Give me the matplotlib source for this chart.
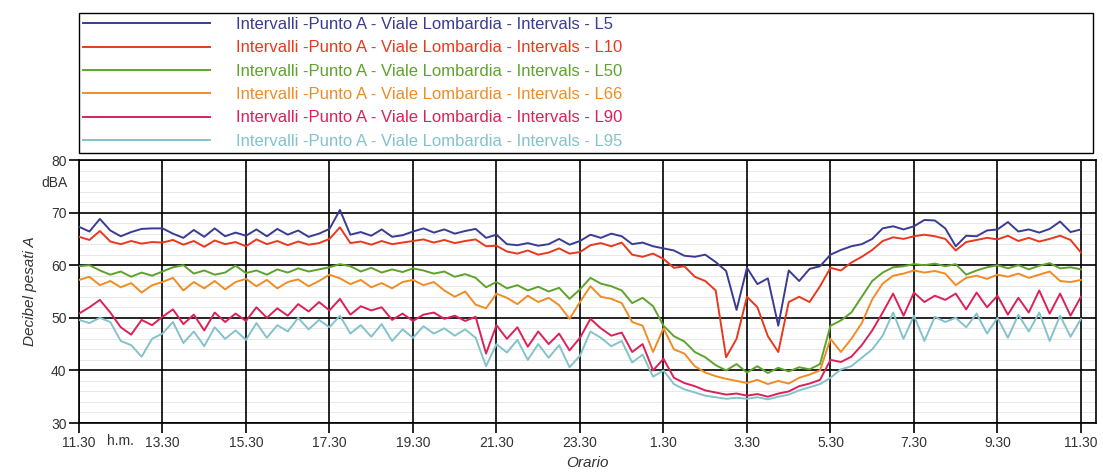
import numpy as np
import matplotlib
matplotlib.use("Agg")
import matplotlib.pyplot as plt
import matplotlib.transforms as mtransforms

plt.rcParams['font.family'] = ['Liberation Sans', 'DejaVu Sans']

# sampling every 15 minutes, hours elapsed since 11.30
hours = np.arange(97) * 0.25

tick_labels = ["11.30", "13.30", "15.30", "17.30", "19.30", "21.30", "23.30",
               "1.30", "3.30", "5.30", "7.30", "9.30", "11.30"]

series_names = ["L5", "L10", "L50", "L66", "L90", "L95"]

l5 = [67.3, 66.4, 68.8, 66.6, 65.5, 66.3, 66.9, 67.0, 67.0,
      66.0, 65.2, 66.7, 65.4, 67.0, 65.5, 66.2, 65.6,
      66.8, 65.5, 66.9, 65.8, 66.6, 65.4, 66.0, 66.9,
      70.5, 65.8, 66.3, 65.6, 66.8, 65.4, 65.7, 66.4,
      67.0, 66.2, 66.8, 66.0, 66.5, 66.9, 65.2, 65.8,
      64.0, 63.8, 64.2, 63.7, 64.0, 65.0, 63.9, 64.6,
      65.8, 65.2, 66.0, 65.5, 64.0, 64.3, 63.6, 63.2,
      62.8, 61.8, 61.6, 62.0, 60.6, 58.9, 51.5, 59.5,
      56.4, 57.5, 48.5, 59.0, 57.0, 59.3, 59.8, 62.0,
      62.9, 63.6, 64.0, 65.0, 67.0, 67.4, 66.8, 67.4,
      68.6, 68.5, 67.0, 63.6, 65.6, 65.5, 66.6, 66.8,
      68.2, 66.4, 66.8, 66.2, 66.9, 68.3, 66.3, 66.8]

l10 = [65.4, 64.8, 66.5, 64.5, 64.0, 64.6, 64.1, 64.4, 64.3,
       64.8, 63.9, 64.6, 63.5, 64.7, 64.0, 64.4, 63.6,
       64.9, 64.0, 64.6, 63.8, 64.5, 63.9, 64.2, 65.0,
       67.2, 64.2, 64.5, 63.9, 64.6, 64.0, 64.3, 64.6,
       64.9, 64.3, 64.8, 64.2, 64.6, 64.9, 63.6, 63.7,
       62.6, 62.2, 62.8, 62.0, 62.4, 63.2, 62.2, 62.5,
       63.8, 64.2, 63.6, 64.3, 62.0, 61.6, 62.2, 61.2,
       59.5, 59.8, 57.8, 57.0, 55.2, 42.5, 46.0, 54.0,
       52.0, 46.5, 43.5, 53.0, 54.0, 53.0, 56.0, 59.5,
       59.0, 60.5, 61.6, 62.9, 64.6, 65.3, 65.0, 65.5,
       65.8, 65.5, 65.0, 62.8, 64.4, 64.8, 65.2, 64.9,
       65.6, 64.6, 65.2, 64.5, 65.0, 65.6, 64.8, 62.4]

l50 = [59.8, 60.0, 59.0, 58.2, 58.8, 57.8, 58.6, 58.0, 58.8,
       59.6, 60.0, 58.4, 59.0, 58.2, 58.6, 59.9, 58.5,
       59.0, 58.2, 59.2, 58.6, 59.4, 58.8, 59.2, 59.6,
       60.2, 59.8, 58.8, 59.5, 58.6, 59.2, 58.7, 59.4,
       59.0, 58.4, 58.8, 57.8, 58.3, 57.6, 55.8, 56.8,
       55.6, 56.2, 55.2, 55.9, 55.0, 55.7, 53.6, 55.4,
       57.6, 56.5, 56.0, 55.2, 52.8, 53.8, 52.2, 48.5,
       46.5, 45.5, 43.5, 42.5, 41.0, 40.0, 41.2, 39.6,
       40.8, 39.5, 40.5, 39.8, 40.6, 40.2, 41.2, 48.5,
       49.5, 51.0, 54.0, 57.0, 58.6, 59.6, 59.8, 60.2,
       60.0, 60.3, 59.8, 60.2, 58.2, 59.0, 59.6, 60.0,
       59.4, 60.0, 59.2, 59.9, 60.4, 59.4, 59.6, 59.2]

l66 = [57.2, 57.8, 56.2, 57.0, 55.8, 56.6, 54.8, 56.2, 56.8,
       57.6, 55.2, 56.8, 55.6, 57.0, 55.4, 56.8, 57.4,
       56.0, 57.2, 55.6, 56.8, 57.3, 56.0, 57.0, 58.2,
       57.5, 56.4, 57.2, 55.8, 56.6, 55.6, 56.8, 57.2,
       56.2, 56.8, 55.2, 54.0, 55.0, 52.5, 51.8, 54.6,
       53.8, 52.6, 54.2, 53.0, 53.8, 52.4, 49.8, 53.0,
       56.0, 54.0, 53.6, 52.8, 49.2, 48.5, 43.5, 48.0,
       44.0, 43.2, 40.8, 39.6, 38.9, 38.4, 38.0, 37.6,
       38.2, 37.4, 38.0, 37.5, 38.6, 39.2, 40.0, 46.0,
       43.5, 46.0, 49.0, 53.5, 56.5, 58.0, 58.4, 59.0,
       58.6, 58.9, 58.4, 56.2, 57.6, 58.0, 57.4, 58.2,
       57.8, 58.4, 57.6, 58.2, 58.8, 57.0, 56.8, 57.2]

l90 = [50.8, 52.0, 53.4, 51.0, 48.2, 46.8, 49.6, 48.6, 50.2,
       51.6, 48.8, 50.6, 47.6, 51.0, 49.2, 50.8, 49.4,
       52.0, 50.0, 51.8, 50.4, 52.6, 51.2, 53.0, 51.4,
       53.6, 50.6, 52.2, 51.4, 52.0, 49.6, 50.8, 49.4,
       50.6, 51.0, 49.8, 50.4, 49.4, 50.2, 43.2, 48.6,
       46.0, 48.2, 44.5, 47.4, 45.0, 47.0, 43.8, 46.2,
       49.8, 48.0, 46.6, 47.2, 43.5, 45.0, 40.0, 42.2,
       38.6, 37.6, 37.0, 36.2, 35.8, 35.4, 35.6, 35.2,
       35.5, 35.0, 35.6, 36.0, 37.0, 37.5, 38.2, 42.0,
       41.6, 42.6, 44.8, 47.6, 51.0, 54.6, 50.4, 54.8,
       53.0, 54.2, 53.4, 54.6, 51.6, 54.8, 52.0, 54.2,
       50.6, 53.8, 51.0, 55.2, 50.8, 54.6, 50.4, 54.0]

l95 = [49.6, 49.0, 50.0, 49.2, 45.6, 44.8, 42.6, 46.0, 47.0,
       49.2, 45.2, 47.4, 44.6, 48.2, 46.0, 47.6, 45.8,
       49.0, 46.2, 48.6, 47.4, 50.0, 47.8, 49.6, 48.2,
       50.4, 47.0, 48.6, 46.4, 48.8, 45.6, 47.8, 46.2,
       48.4, 47.0, 48.0, 46.6, 47.8, 46.2, 40.8, 45.0,
       43.4, 45.8, 42.0, 45.0, 42.4, 44.8, 40.6, 42.8,
       47.4, 46.2, 44.6, 45.6, 41.5, 43.0, 38.8, 40.0,
       37.4, 36.4, 35.8, 35.2, 34.9, 34.6, 34.8, 34.6,
       34.9, 34.5, 35.0, 35.4, 36.2, 36.8, 37.4, 38.6,
       40.2, 40.8, 42.4, 44.0, 46.6, 51.0, 46.0, 50.4,
       45.6, 50.2, 49.2, 50.0, 48.2, 50.8, 47.0, 50.0,
       46.2, 50.6, 47.4, 51.0, 45.6, 50.4, 46.4, 49.8]

colors = ["#3a3c92", "#e8391f", "#5ea32c", "#f08c26", "#dc2158", "#84c2cc"]

W, H = 1103, 473
fig = plt.figure(figsize=(W / 100, H / 100), dpi=100)
ax = fig.add_axes([79 / W, 1 - 423 / H, (1096 - 79) / W, (423 - 160) / H])

lines = []
for name, vals, c in zip(series_names, [l5, l10, l50, l66, l90, l95], colors):
    ln, = ax.plot(hours, vals, color=c, lw=1.4, zorder=3,
                  label="Intervalli -Punto A - Viale Lombardia - Intervals - " + name)
    lines.append(ln)

ax.set_xlim(0, 24.36)
ax.set_ylim(30, 80)
ax.set_xticks(np.arange(0, 25, 2))
ax.set_xticklabels(tick_labels)
ax.set_yticks(np.arange(30, 81, 10))

# faint 2 dB guide lines under the black grid
for yv in range(32, 80, 2):
    if yv % 10:
        ax.axhline(yv, color='#e4e4e4', lw=0.6, zorder=0.2)
ax.set_axisbelow(True)
ax.grid(which='major', color='black', lw=1.2)

ax.tick_params(which='major', direction='out', length=7, width=1.2,
               labelsize=10, labelcolor='#333333', pad=2)
for sp in ax.spines.values():
    sp.set_linewidth(1.2)

# unit labels beside the tick labels
trans_x = mtransforms.blended_transform_factory(ax.transData, ax.transAxes)
ax.text(1.0, -0.04, "h.m.", transform=trans_x, ha='center', va='top',
        fontsize=10, color='#333333')
trans_y = mtransforms.blended_transform_factory(ax.transAxes, ax.transData)
ax.text(-0.011, 75.6, "dBA", transform=trans_y, ha='right', va='center',
        fontsize=10, color='#333333')

ax.set_ylabel("Decibel pesati A", fontstyle='italic', fontsize=11, color='#333333')
ax.yaxis.set_label_coords(-0.041, 0.5)
ax.set_xlabel("Orario", fontstyle='italic', fontsize=11, color='#333333', labelpad=5)

leg = fig.legend(handles=lines, loc='upper left',
                 bbox_to_anchor=(79 / W, 1 - 152 / H, (1093 - 79) / W, (152 - 13) / H),
                 mode='expand', ncol=1, fontsize=12, labelcolor='linecolor',
                 handlelength=7.6, handletextpad=1.55, labelspacing=0.5,
                 borderpad=0.25, borderaxespad=0, fancybox=False,
                 edgecolor='black', framealpha=1)
leg.get_frame().set_linewidth(1.0)

fig.savefig("out.png", dpi=100)
